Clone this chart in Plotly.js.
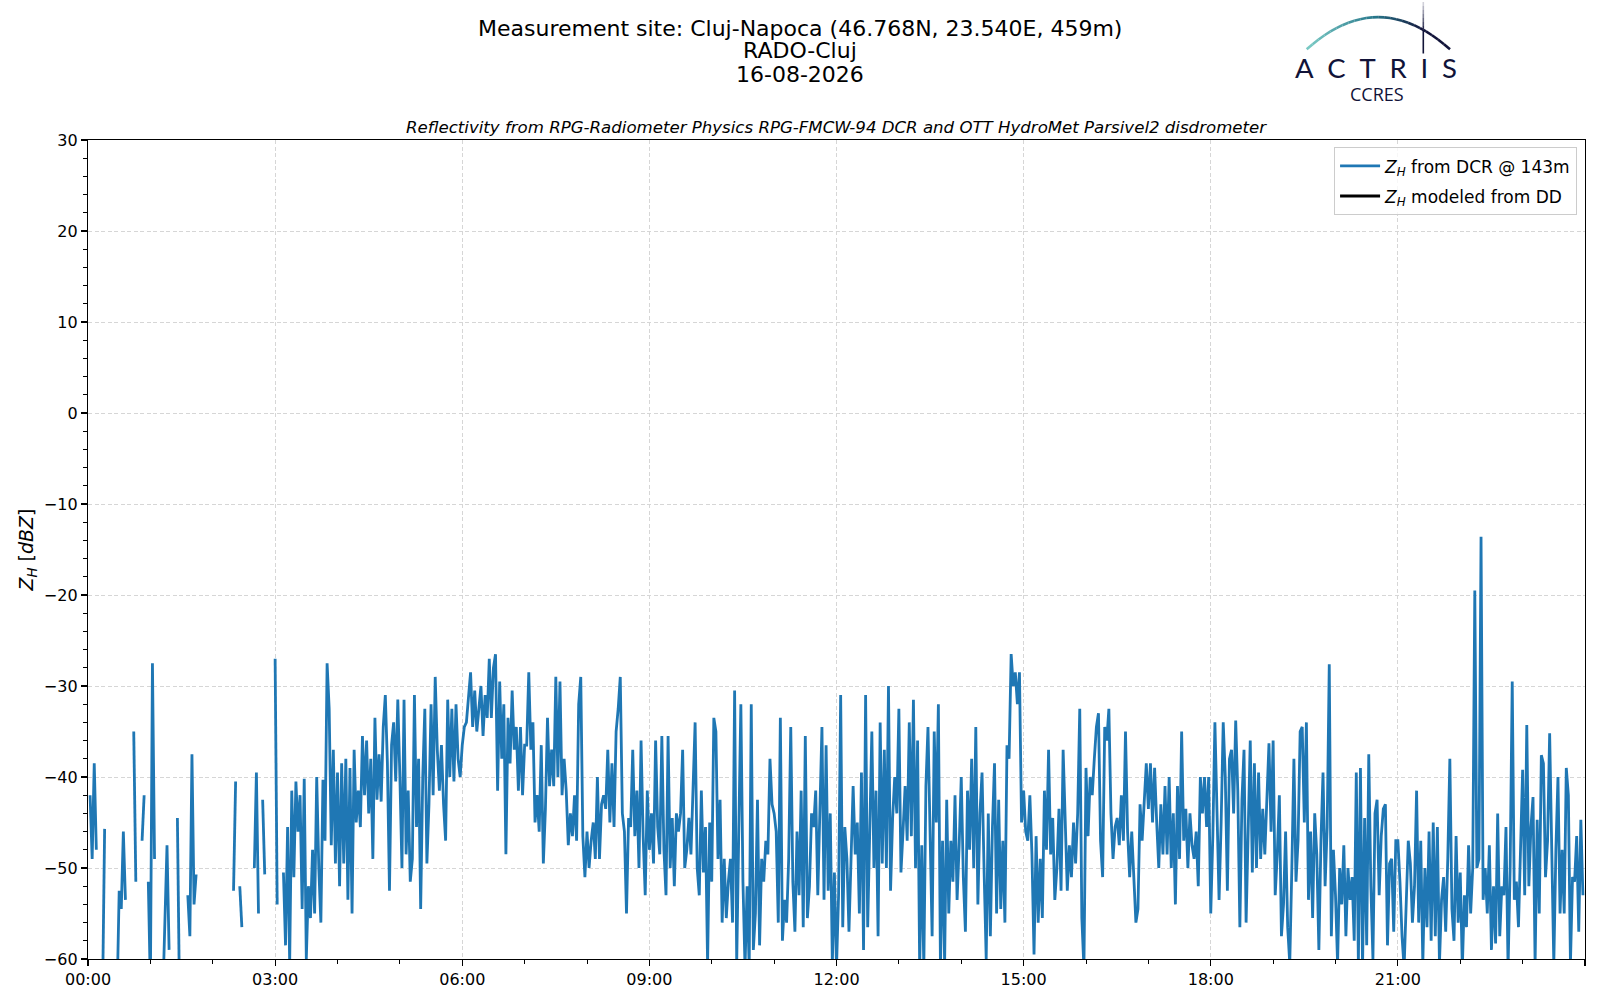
<!DOCTYPE html>
<html>
<head>
<meta charset="utf-8">
<script src="https://cdn.plot.ly/plotly-3.0.1.min.js"></script>
<style>body{margin:0;background:#fff}</style>
</head>
<body>
<div id="plot_zh" style="width:1600px;height:1000px"></div>
<script>
var dayStart = '2026-08-16';
var stepMinutes = 2;

// Z_H from DCR @ 143m, one value every 2 minutes, 3 hours per block (null = no data)
var zh0003 = [null, -42, -49, -38.5, -48, null, null, -64, -45.7, null,
  null, null, null, null, -64, -52.5, -54.5, -46, -53.5, null,
  null, null, -35, -51.5, null, null, -47, -42, null, -51.5,
  -63, -27.5, -49, null, null, null, -64, -57, -47.5, -59,
  null, null, null, -44.5, -64, null, null, null, -53, -57.5,
  -37.5, -54, -50.7, null, null, null, null, null, null, null,
  null, null, null, null, null, null, null, null, null, null,
  -52.5, -40.5, null, -52, -56.5, null, null, null, null, null,
  -50, -39.5, -55, null, -42.5, -50.7, null, null, null, null];
var zh0306 = [-27, -54, null, null, -50.5, -58.5, -45.5, -60.5, -41.5, -51,
  -40.5, -46, -42, -54.5, -40.2, -60, -52, -55.5, -48, -55,
  -40, -50, -56, -40.3, -47, -27.5, -32.5, -47.5, -37, -49.5,
  -39.5, -52, -38.5, -49.5, -38, -53.5, -39, -55, -37, -45,
  -41.5, -45.5, -35.5, -42, -36, -44, -38, -49, -33.5, -42.5,
  -37.5, -42.7, -34.5, -31, -38.5, -52.5, -36.5, -34, -40.5, -31.5,
  -40, -50, -31.5, -48.5, -41.5, -51.5, -49, -31, -45.5, -38,
  -54.5, -40, -32.5, -49.5, -43, -32, -42, -29, -37, -41.5,
  -36.5, -43, -47, -31.5, -40, -32.5, -40.5, -32, -38, -40];
var zh0609 = [-36.5, -34.5, -34, -31.5, -28.5, -34.5, -30.5, -35, -32, -30,
  -35.5, -31, -33.5, -27, -33.5, -28, -26.5, -41.5, -29.5, -38,
  -32, -48.5, -33.5, -38.5, -30.5, -37, -34.5, -41.5, -34.5, -42,
  -36.5, -36.5, -28.5, -37, -34, -45, -42, -46, -36.5, -49.5,
  -43.5, -33.5, -41, -37, -41, -29, -40, -29.5, -42, -38,
  -41.5, -47.5, -44, -46.5, -42, -47, -32, -29, -46.5, -51,
  -46, -50, -47, -45, -49, -40, -49, -43, -42, -43.5,
  -37, -45, -38.5, -45.5, -35, -32.5, -29, -44, -46, -55,
  -44.5, -45.5, -37, -46.5, -41.5, -50, -36, -46.5, -53, -41.5];
var zh0912 = [-48, -44, -49.5, -36, -45.5, -48.5, -35.5, -48, -53, -35.5,
  -50, -44.5, -52, -44, -46, -44, -37, -50, -48, -44.5,
  -48.5, -40, -34, -50, -53, -41.5, -50.5, -45.5, -60.5, -45,
  -51.5, -33.5, -35, -49, -42.5, -56, -49, -55.5, -51.5, -49,
  -56, -30.5, -60.5, -46, -32, -51.5, -61, -52, -61, -32,
  -59, -55, -42.5, -58.5, -49, -51.5, -47, -48.5, -38, -43,
  -44, -46, -56, -33.5, -58, -53.5, -56, -49, -34.5, -51.5,
  -57, -46, -53, -41.5, -56.5, -35.5, -55.5, -52, -44, -45.5,
  -41.5, -53, -45, -34.5, -53.5, -36.5, -52.5, -44, -60.5, -50.5];
var zh1215 = [-61, -53, -31, -56.5, -45.5, -49, -57, -48, -41, -48.5,
  -45, -55, -39.5, -59, -31, -56.5, -46, -35, -50, -41.5,
  -57.5, -34, -49.5, -37, -50, -30, -52.5, -44.5, -40, -44,
  -32.5, -50.5, -46, -41, -47, -34, -46.5, -31.5, -50, -36,
  -61, -47.5, -61, -41, -34.5, -48, -57.5, -35, -45, -32,
  -61, -47, -60.5, -42.5, -55, -47, -51.5, -42, -53.5, -47.5,
  -40, -51, -57, -41.5, -48, -38, -50, -34.5, -54, -44,
  -39.5, -50.5, -60, -44, -57.5, -45.5, -38.5, -55, -42.5, -54.5,
  -47, -56, -36.5, -38, -26.5, -30, -28.5, -32, -28.5, -45];
var zh1518 = [-41.5, -46, -47, -42, -48.5, -59.5, -46.5, -56, -49, -55.5,
  -41.5, -48, -37, -48.5, -44.5, -53.5, -50, -43.5, -52.5, -37,
  -44, -52.5, -47.5, -51, -45, -49.5, -44, -32.5, -55.5, -61,
  -39, -46.5, -40, -42, -38, -34.5, -33, -47, -51, -34.5,
  -36, -32.5, -44, -49, -45.5, -44.5, -47.5, -42, -47, -35,
  -46, -51, -46, -52, -56, -54.5, -43, -47, -42, -38.5,
  -43.5, -38.5, -45, -39, -45, -50, -43, -48.5, -41, -48.5,
  -40, -50, -44, -54, -41, -49, -35, -47, -43.5, -50,
  -44, -47.5, -49, -46, -52, -40, -44, -40, -45.5, -40];
var zh1821 = [-55, -46.5, -34, -43, -53.5, -45, -34, -40, -52.5, -38,
  -37, -44, -33.8, -41.5, -56.5, -42.5, -37, -56, -47.5, -36,
  -50.5, -38.5, -50, -39.5, -49, -43.5, -48.5, -41.5, -36.3, -46,
  -36, -53, -48.5, -42, -57.5, -54, -46, -56.5, -60.5, -50,
  -38, -51.5, -47, -35, -34.5, -45, -34, -53.5, -46, -55.5,
  -44, -48.5, -59, -47, -39.5, -52, -45.5, -27.6, -57.5, -48,
  -53, -60.5, -50, -54, -47.5, -57.5, -50, -53.5, -51, -58,
  -39.5, -60.5, -39, -61, -44.5, -58.5, -37.5, -52, -60, -44,
  -42.5, -53, -46.5, -43.5, -43, -58.5, -49.5, -49, -57, -47];
var zh2124 = [-47, -51.5, -57.5, -61, -54, -47, -49.5, -56, -52, -41.5,
  -56, -47, -60.5, -50, -56.5, -46, -58, -45, -57.5, -45.5,
  -60.5, -53.5, -51, -57, -49, -38, -54.5, -58, -46.5, -56,
  -50.5, -61, -53, -56.5, -47.5, -55, -50, -19.5, -50, -49,
  -13.6, -53.5, -50, -55, -47.5, -59, -52, -58.3, -44, -57.5,
  -52, -53, -45.5, -61, -50, -29.5, -53.5, -51.5, -56.5, -49,
  -39.2, -53, -34.3, -52, -45.5, -42.2, -60.5, -44.7, -55, -37.6,
  -38.5, -51, -47, -35.2, -48.5, -60.5, -48, -40, -55, -48,
  -55, -39, -42, -60.5, -51, -51.5, -46.5, -57, -44.7, -53];

// Z_H modeled from DD: no valid values on this day
var ddTimes = ['2026-08-16 00:00', '2026-08-16 23:58'];
var ddValues = [null, null];

var titleLines = ['Measurement site: Cluj-Napoca (46.768N, 23.540E, 459m)', 'RADO-Cluj', '16-08-2026'];

var zhValues = [].concat(zh0003, zh0306, zh0609, zh0912, zh1215, zh1518, zh1821, zh2124);

function pad(n){ return (n < 10 ? '0' : '') + n; }
var zhTimes = [];
for (var i = 0; i < zhValues.length; i++) {
	var mins = i * stepMinutes;
	zhTimes.push(dayStart + ' ' + pad(Math.floor(mins / 60)) + ':' + pad(mins % 60));
}

var traceDcr = {
	x: zhTimes,
	y: zhValues,
	name: '<i>Z</i><sub><i>H</i></sub> from DCR @ 143m',
	legendgroup: 'dcr',
	type: 'scatter',
	mode: 'lines',
	line: {color: '#1f77b4', width: 2.8},
	connectgaps: false
};
var traceDd = {
	x: ddTimes,
	y: ddValues,
	name: '<i>Z</i><sub><i>H</i></sub> modeled from DD',
	legendgroup: 'dd',
	type: 'scatter',
	mode: 'lines',
	line: {color: '#000000', width: 2.8},
	showlegend: true
};

// plot area in pixels: x 88..1585, y 140..959 -> helpers for the header items
function px(x){ return (x - 88) / 1497; }
function py(y){ return (959 - y) / 819; }

var shapes = [];
// arc of the ACTRIS logo, drawn as short pieces with a teal -> navy gradient
var arcN = 24;
var p0 = [1306.7, 49.3], pc = [1378, -15], p2 = [1450, 49.3];
function bez(t, k){ return (1-t)*(1-t)*p0[k] + 2*(1-t)*t*pc[k] + t*t*p2[k]; }
function mix(a, b, t){
	var r = Math.round(a[0] + (b[0]-a[0])*t), g = Math.round(a[1] + (b[1]-a[1])*t), bl = Math.round(a[2] + (b[2]-a[2])*t);
	return 'rgb(' + r + ',' + g + ',' + bl + ')';
}
for (var k = 0; k < arcN; k++) {
	var t0 = k / arcN, t1 = (k + 1) / arcN;
	var c = t0 < 0.45 ? mix([120, 200, 195], [40, 120, 140], t0 / 0.45) : mix([40, 120, 140], [18, 20, 58], Math.min(1, (t0 - 0.45) / 0.35));
	shapes.push({type: 'line', xref: 'paper', yref: 'paper',
		x0: px(bez(t0, 0)), y0: py(bez(t0, 1)), x1: px(bez(t1, 0)), y1: py(bez(t1, 1)),
		line: {color: c, width: 2.6}});
}
// vertical stroke, fading to white at the top
var vN = 8;
for (var k = 0; k < vN; k++) {
	var ya = 2 + k * 4, yb = ya + 4;
	shapes.push({type: 'line', xref: 'paper', yref: 'paper',
		x0: px(1423.3), y0: py(ya), x1: px(1423.3), y1: py(yb),
		line: {color: mix([235, 235, 240], [18, 20, 58], (k + 1) / vN), width: 1.6}});
}
shapes.push({type: 'line', xref: 'paper', yref: 'paper',
	x0: px(1423.3), y0: py(34), x1: px(1423.3), y1: py(53.5),
	line: {color: '#121438', width: 1.6}});

var annotations = [];
var titleY = [28, 51, 74];
for (var j = 0; j < titleLines.length; j++) {
	annotations.push({text: titleLines[j], xref: 'paper', yref: 'paper', x: px(800), y: py(titleY[j]),
		xanchor: 'center', yanchor: 'middle', showarrow: false, font: {size: 22, color: '#000'}});
}
annotations.push(
	{text: '<i>Reflectivity from RPG-Radiometer Physics RPG-FMCW-94 DCR and OTT HydroMet Parsivel2 disdrometer</i>',
		xref: 'paper', yref: 'paper', x: 0.5, y: py(127), xanchor: 'center', yanchor: 'middle',
		showarrow: false, font: {size: 16.6}},
	{text: 'A\u2002C\u2002T\u2002R\u2002I\u2002S',
		xref: 'paper', yref: 'paper', x: px(1376), y: py(67), xanchor: 'center', yanchor: 'middle',
		showarrow: false, font: {family: 'Lato, Open Sans, sans-serif', size: 27.5, color: '#111338'}},
	{text: 'CCRES',
		xref: 'paper', yref: 'paper', x: px(1377), y: py(94.5), xanchor: 'center', yanchor: 'middle',
		showarrow: false, font: {family: 'Open Sans, sans-serif', size: 18, color: '#111338'}}
);

var layout = {
	width: 1600,
	height: 1000,
	margin: {l: 88, r: 15, t: 140, b: 41},
	paper_bgcolor: '#ffffff',
	plot_bgcolor: '#ffffff',
	font: {family: 'DejaVu Sans, sans-serif', color: '#000000', size: 16},
	showlegend: true,
	legend: {
		x: 0.9947, xanchor: 'right', y: 0.991, yanchor: 'top',
		bgcolor: 'rgba(255,255,255,0.8)',
		bordercolor: '#cccccc', borderwidth: 1,
		tracegroupgap: 5,
		itemwidth: 40,
		font: {size: 17}
	},
	xaxis: {
		type: 'date',
		range: [dayStart + ' 00:00', '2026-08-17 00:00'],
		tickformat: '%H:%M',
		tick0: dayStart + ' 00:00',
		dtick: 3 * 3600000,
		ticks: 'outside', ticklen: 6, tickwidth: 1.2, tickcolor: '#000',
		minor: {dtick: 3600000, ticks: 'outside', ticklen: 3.5, tickwidth: 1, tickcolor: '#000', showgrid: false},
		showline: true, linecolor: '#000', linewidth: 1.2, mirror: true,
		showgrid: true, gridcolor: '#d6d6d6', griddash: '4px,2.5px', gridwidth: 1,
		zeroline: false,
		tickfont: {size: 16}
	},
	yaxis: {
		range: [-60, 30],
		dtick: 10,
		ticks: 'outside', ticklen: 6, tickwidth: 1.2, tickcolor: '#000',
		minor: {dtick: 2, ticks: 'outside', ticklen: 3.5, tickwidth: 1, tickcolor: '#000', showgrid: false},
		showline: true, linecolor: '#000', linewidth: 1.2, mirror: true,
		showgrid: true, gridcolor: '#d6d6d6', griddash: '4px,2.5px', gridwidth: 1,
		zeroline: false,
		tickfont: {size: 16},
		title: {text: '<i>Z</i><sub><i>H</i></sub> [<i>dBZ</i>]', font: {size: 19}, standoff: 5}
	},
	shapes: shapes,
	annotations: annotations
};

Plotly.newPlot('plot_zh', [traceDcr, traceDd], layout, {displayModeBar: false, staticPlot: true});
</script>
</body>
</html>
